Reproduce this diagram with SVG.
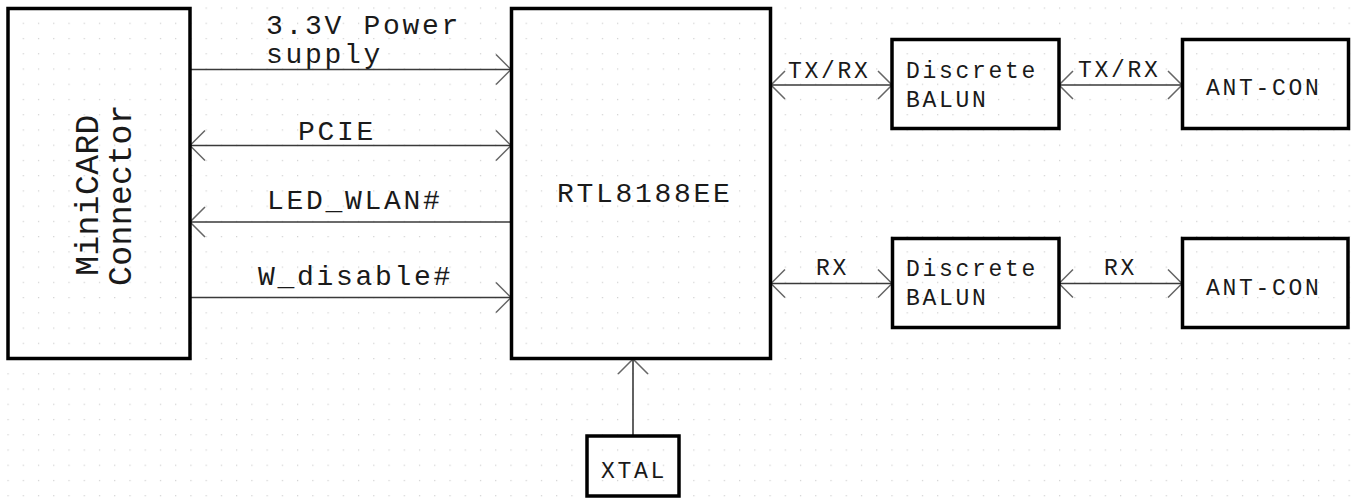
<svg xmlns="http://www.w3.org/2000/svg" width="1358" height="500" viewBox="0 0 1358 500">
  <style>
    .box { fill: none; stroke: #000; stroke-width: 3.5; }
    .wire { stroke: #3a3a3a; stroke-width: 1.6; fill: none; }
    .lbl { font-family: "Liberation Mono", "DejaVu Sans Mono", monospace; fill: #1a1a1a; }
    .big { font-size: 28px; letter-spacing: 2.7px; }
    .small { font-size: 23px; letter-spacing: 2.7px; }
    .rot { font-size: 33px; letter-spacing: 0.4px; text-anchor: middle; }
  </style>
  <defs>
    <pattern id="grid" x="7.46" y="7.46" width="15.24" height="15.24" patternUnits="userSpaceOnUse">
      <rect x="0" y="0" width="1.2" height="1.2" fill="#cfcfcf"/>
    </pattern>
    <marker id="chev" viewBox="-17 -17 34 34" markerWidth="34" markerHeight="34" refX="0" refY="0" markerUnits="userSpaceOnUse" orient="auto-start-reverse">
      <path d="M -15 -15 L 0 0 L -15 15" fill="none" stroke="#666" stroke-width="1.5"/>
    </marker>
    <marker id="chevs" viewBox="-17 -17 34 34" markerWidth="34" markerHeight="34" refX="0" refY="0" markerUnits="userSpaceOnUse" orient="auto-start-reverse">
      <path d="M -14 -14 L 0 0 L -14 14" fill="none" stroke="#666" stroke-width="1.5"/>
    </marker>
  </defs>
  <rect x="0" y="0" width="1358" height="500" fill="#fff"/>
  <rect x="0" y="0" width="1358" height="500" fill="url(#grid)"/>

  <g id="connectors">
    <line class="wire" x1="190" y1="69.5" x2="511" y2="69.5" marker-end="url(#chev)"/>
    <line class="wire" x1="190" y1="145.5" x2="511" y2="145.5" marker-start="url(#chev)" marker-end="url(#chev)"/>
    <line class="wire" x1="511" y1="222" x2="190" y2="222" marker-end="url(#chev)"/>
    <line class="wire" x1="190" y1="297.5" x2="511" y2="297.5" marker-end="url(#chev)"/>
    <line class="wire" x1="771" y1="85" x2="892" y2="85" marker-start="url(#chevs)" marker-end="url(#chevs)"/>
    <line class="wire" x1="1059" y1="85" x2="1182" y2="85" marker-start="url(#chevs)" marker-end="url(#chevs)"/>
    <line class="wire" x1="771" y1="283.5" x2="892" y2="283.5" marker-start="url(#chevs)" marker-end="url(#chevs)"/>
    <line class="wire" x1="1059" y1="283.5" x2="1182" y2="283.5" marker-start="url(#chevs)" marker-end="url(#chevs)"/>
    <line class="wire" x1="633" y1="436" x2="633" y2="359" marker-end="url(#chev)"/>
    <text class="lbl big" x="266" y="34">3.3V Power</text>
    <text class="lbl big" x="266" y="63">supply</text>
    <text class="lbl big" x="298" y="140">PCIE</text>
    <text class="lbl big" x="267" y="209">LED_WLAN#</text>
    <text class="lbl big" x="258" y="285">W_disable#</text>
    <text class="lbl small" x="788" y="78">TX/RX</text>
    <text class="lbl small" x="1078" y="77">TX/RX</text>
    <text class="lbl small" x="816" y="275">RX</text>
    <text class="lbl small" x="1104" y="275">RX</text>
  </g>

  <g id="minicard">
    <rect class="box" x="8" y="8.5" width="182" height="350"/>
    <text class="lbl rot" transform="translate(98 195) rotate(-90)">MiniCARD</text>
    <text class="lbl rot" transform="translate(131 195) rotate(-90)">Connector</text>
  </g>
  <g id="rtl8188ee">
    <rect class="box" x="511.5" y="8.5" width="259" height="350"/>
    <text class="lbl big" x="557" y="202">RTL8188EE</text>
  </g>
  <g id="balun1">
    <rect class="box" x="892" y="39.5" width="167" height="89"/>
    <text class="lbl small" x="906" y="78">Discrete</text>
    <text class="lbl small" x="906" y="107">BALUN</text>
  </g>
  <g id="antcon1">
    <rect class="box" x="1182.5" y="39.5" width="166" height="89"/>
    <text class="lbl small" x="1206" y="95">ANT-CON</text>
  </g>
  <g id="balun2">
    <rect class="box" x="892.5" y="238.5" width="166.5" height="89"/>
    <text class="lbl small" x="906" y="276">Discrete</text>
    <text class="lbl small" x="906" y="305">BALUN</text>
  </g>
  <g id="antcon2">
    <rect class="box" x="1182.5" y="238.5" width="165.5" height="89"/>
    <text class="lbl small" x="1206" y="295">ANT-CON</text>
  </g>
  <g id="xtal">
    <rect class="box" x="587" y="436" width="92" height="60"/>
    <text class="lbl small" x="601" y="478">XTAL</text>
  </g>
</svg>
